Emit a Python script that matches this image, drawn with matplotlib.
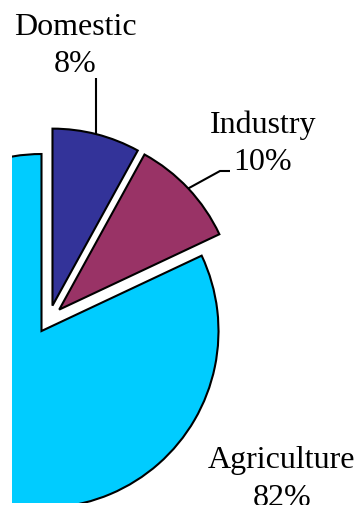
import numpy as np
import matplotlib
matplotlib.use("Agg")
import matplotlib.pyplot as plt

# Share of water use by sector
sectors = ["Agriculture", "Industry", "Domestic"]
shares = [82, 10, 8]
colors = ["#00CCFF", "#993366", "#333399"]

W, H = 359, 505
fig = plt.figure(figsize=(W / 100, H / 100), dpi=100)
fig.patch.set_facecolor("white")

# axes in pixel-like data units; pie is clipped on the left and bottom
left, bottom = 12, 2.5
ax = fig.add_axes([left / W, bottom / H, (W - left) / W, (H - bottom) / H])
ax.set_axis_off()

radius = 177
center = (49.0, 185.8)
wedges, _ = ax.pie(
    shares,
    colors=colors,
    startangle=90,
    counterclock=True,
    radius=radius,
    center=center,
    explode=[14, 14, 14],
    wedgeprops=dict(edgecolor="black", linewidth=1.5, joinstyle="miter"),
    frame=True,
)
for w in wedges:
    w.set_clip_on(True)
    w.set_clip_box(ax.bbox)
ax.set_xlim(left, W)
ax.set_ylim(bottom, H)
ax.set_aspect("auto")
ax.set_axis_off()

font = dict(family=["Liberation Serif", "DejaVu Serif"], fontsize=23, color="black")


def arc_mid(w):
    t = np.deg2rad(0.5 * (w.theta1 + w.theta2))
    cx, cy = w.center
    return cx + w.r * np.cos(t), cy + w.r * np.sin(t)


label_pos = {
    "Domestic": (75, 470, 433),
    "Industry": (263, 372, 335),
    "Agriculture": (282, 37, -1),
}
for name, pct in zip(sectors, shares):
    x, y1, y2 = label_pos[name]
    ax.text(x, y1, name, ha="center", va="baseline", clip_on=False, **font)
    ax.text(x, y2, f"{pct}%", ha="center", va="baseline", clip_on=False, **font)

lw = 1.5
# leader for Domestic: straight up from the arc
wd = wedges[sectors.index("Domestic")]
x0, y0 = arc_mid(wd)
ax.plot([x0, x0], [y0, 427], color="black", lw=lw, solid_capstyle="butt", clip_on=False)

# leader for Industry: diagonal then a short horizontal run
wi = wedges[sectors.index("Industry")]
x0, y0 = arc_mid(wi)
ax.plot([x0, 220, 230], [y0, 334, 334], color="black", lw=lw,
        solid_capstyle="butt", solid_joinstyle="miter", clip_on=False)

fig.savefig("out.png", dpi=100, facecolor="white")
